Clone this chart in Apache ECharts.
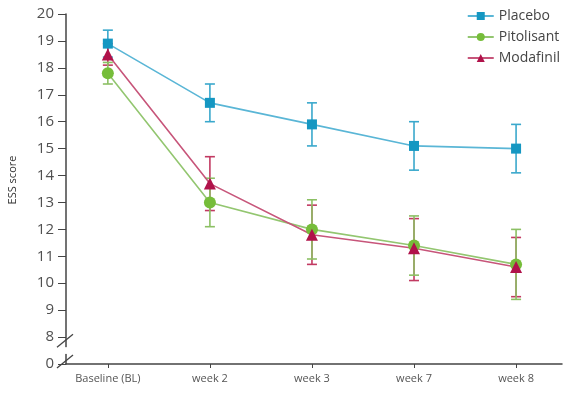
<!DOCTYPE html>
<html lang="en">
<head>
	<meta charset="UTF-8">
	<script src="https://cdn.jsdelivr.net/npm/echarts@6/dist/echarts.min.js"></script>
	<style>
		html, body { margin: 0; padding: 0; background: #fff; }
	</style>
</head>
<body>
<div id="essChart" style="width: 569px; height: 396px;"></div>
<script>
  // categories on the x axis
  var visits = ['Baseline (BL)', 'week 2', 'week 3', 'week 7', 'week 8'];
  var yTicks = [7, 8, 9, 10, 11, 12, 13, 14, 15, 16, 17, 18, 19, 20]; // 7 is shown as the broken "0"

  // ESS means and error bar ends
  var placeboMean = [18.9, 16.7, 15.9, 15.1, 15.0];
  var placeboLow  = [18.4, 16.0, 15.1, 14.2, 14.1];
  var placeboHigh = [19.4, 17.4, 16.7, 16.0, 15.9];

  var pitolisantMean = [17.8, 13.0, 12.0, 11.4, 10.7];
  var pitolisantLow  = [17.4, 12.1, 10.9, 10.3, 9.4];
  var pitolisantHigh = [18.2, 13.9, 13.1, 12.5, 12.0];

  var modafinilMean = [18.5, 13.7, 11.8, 11.3, 10.6];
  var modafinilLow  = [18.1, 12.7, 10.7, 10.1, 9.5];
  var modafinilHigh = [18.9, 14.7, 12.9, 12.4, 11.7];

  var chart = echarts.init(document.getElementById('essChart'));

  function points(mean) {
    return mean.map(function (v, i) { return [i, v]; });
  }
  function bars(low, high) {
    return low.map(function (v, i) { return [i, v, high[i]]; });
  }

  function errorBar(name, color, low, high) {
    return {
      type: 'custom',
      name: name + ' SD',
      data: bars(low, high),
      z: 1,
      silent: true,
      renderItem: function (params, api) {
        var top = api.coord([api.value(0), api.value(2)]);
        var bot = api.coord([api.value(0), api.value(1)]);
        var w = 5;
        var st = { stroke: color, lineWidth: 1.6 };
        return {
          type: 'group',
          children: [
            { type: 'line', shape: { x1: top[0], y1: top[1], x2: bot[0], y2: bot[1] }, style: st },
            { type: 'line', shape: { x1: top[0] - w, y1: top[1], x2: top[0] + w, y2: top[1] }, style: st },
            { type: 'line', shape: { x1: bot[0] - w, y1: bot[1], x2: bot[0] + w, y2: bot[1] }, style: st }
          ]
        };
      }
    };
  }

  function meanLine(name, lineColor, markColor, symbol, size, mean) {
    return {
      type: 'line',
      name: name,
      data: points(mean),
      z: 3,
      symbol: symbol,
      symbolSize: size,
      lineStyle: { color: lineColor, width: 1.6 },
      itemStyle: { color: markColor },
      emphasis: { disabled: true }
    };
  }

  var option = {
    animation: false,
    backgroundColor: '#fff',
    grid: { left: 66, right: 7, top: 14, bottom: 32, outerBoundsMode: 'none' },
    legend: {
      orient: 'vertical',
      right: 4,
      top: 4,
      itemWidth: 26,
      itemHeight: 10,
      itemGap: 7,
      textStyle: { fontSize: 14, color: '#444', fontFamily: 'Open Sans' },
      data: ['Placebo', 'Pitolisant', 'Modafinil']
    },
    xAxis: {
      type: 'value',
      min: -0.41,
      max: 4.45,
      splitLine: { show: false },
      axisLine: { onZero: false, lineStyle: { color: '#444', width: 1.5 } },
      axisTick: { customValues: [0, 1, 2, 3, 4], length: 4, lineStyle: { color: '#444' } },
      axisLabel: {
        customValues: [0, 1, 2, 3, 4],
        formatter: function (v) { return visits[Math.round(v)]; },
        color: '#555',
        fontSize: 11,
        fontFamily: 'Open Sans',
        margin: 9
      }
    },
    yAxis: {
      type: 'value',
      min: yTicks[0],
      max: yTicks[yTicks.length - 1],
      interval: 1,
      name: 'ESS score',
      nameLocation: 'middle',
      nameGap: 48,
      nameTextStyle: { fontSize: 11, color: '#333', fontFamily: 'Open Sans', padding: [0, 0, 0, 18] },
      splitLine: { show: false },
      axisLine: { show: true, onZero: false, lineStyle: { color: '#444', width: 1.5 } },
      axisTick: { show: true, length: 8, lineStyle: { color: '#444' } },
      axisLabel: {
        formatter: function (v) { return v === yTicks[0] ? '0' : String(v); },
        color: '#505050',
        fontSize: 15,
        fontFamily: 'Open Sans',
        margin: 12
      }
    },
    series: [
      errorBar('Placebo', '#3aa8cc', placeboLow, placeboHigh),
      errorBar('Modafinil', '#c23a62', modafinilLow, modafinilHigh),
      errorBar('Pitolisant', '#8cc064', pitolisantLow, pitolisantHigh),
      meanLine('Placebo', '#5ab6d6', '#1597c2', 'rect', 10, placeboMean),
      meanLine('Pitolisant', '#93c670', '#76bd3a', 'circle', 12, pitolisantMean),
      meanLine('Modafinil', '#c7557a', '#b0124a', 'triangle', 12, modafinilMean)
    ]
  };
  chart.setOption(option);

  // axis break "//" between 0 and 8
  var axisX = chart.convertToPixel({ xAxisIndex: 0 }, -0.41);
  var brkA = chart.convertToPixel({ yAxisIndex: 0 }, 7.3);
  var brkB = chart.convertToPixel({ yAxisIndex: 0 }, 7.7);
  chart.setOption({
    graphic: [
      { type: 'rect', shape: { x: axisX - 3, y: brkB + 2, width: 6, height: brkA - brkB - 4 }, style: { fill: '#fff' }, z: 10 },
      { type: 'line', shape: { x1: axisX - 9, y1: brkB + 2, x2: axisX + 7, y2: brkB - 11 }, style: { stroke: '#444', lineWidth: 1.3 }, z: 11 },
      { type: 'line', shape: { x1: axisX - 9, y1: brkA + 12, x2: axisX + 7, y2: brkA - 1 }, style: { stroke: '#444', lineWidth: 1.3 }, z: 11 }
    ]
  });
</script>
</body>
</html>
